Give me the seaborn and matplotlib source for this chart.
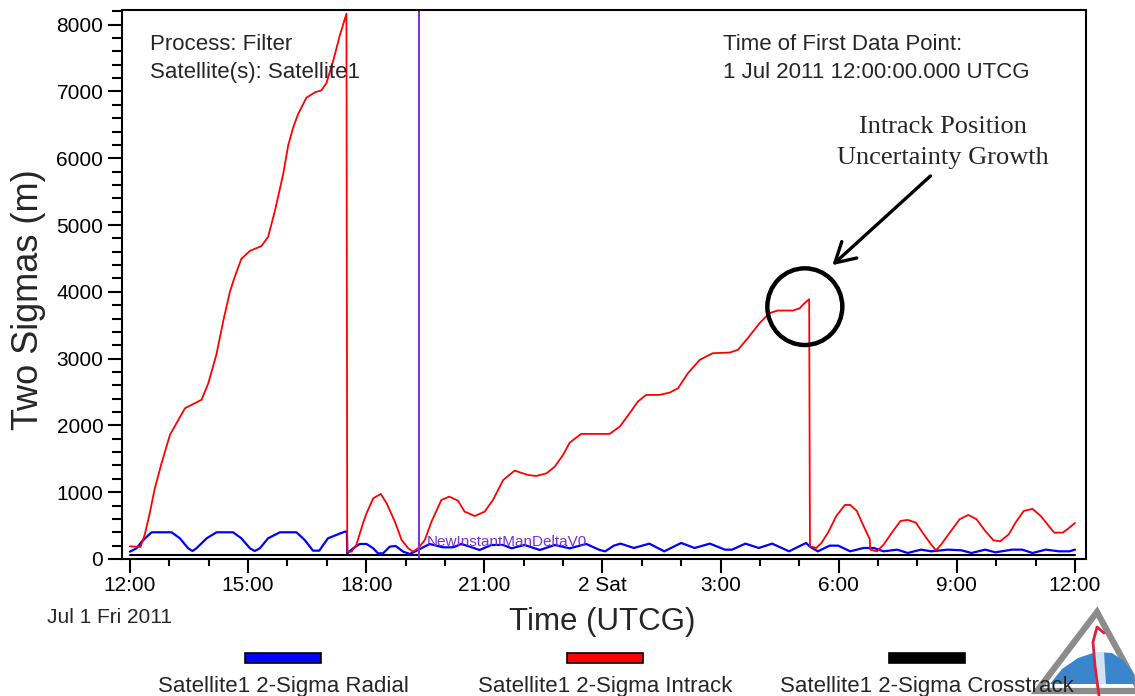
import matplotlib
matplotlib.use("Agg")
import matplotlib.pyplot as plt
import matplotlib.patches as mpatches
from matplotlib.lines import Line2D
from matplotlib.ticker import MultipleLocator
from matplotlib.transforms import Affine2D
import pandas as pd
import seaborn as sns

# hours after 1 Jul 2011 12:00:00 UTCG, two-sigma values in metres
radial_hours = [0.0, 0.17, 0.30, 0.55, 1.06, 1.27, 1.48, 1.59, 1.69, 1.95, 2.20, 2.62,
                2.83, 3.05, 3.17, 3.30, 3.51, 3.81, 4.23, 4.44, 4.65, 4.81, 5.03, 5.46,
                5.51, 5.52, 5.67, 5.84, 6.01, 6.18, 6.30, 6.43, 6.60, 6.75, 6.94, 7.11,
                7.32, 7.61, 7.95, 8.21, 8.42, 8.63, 8.88, 9.18, 9.48, 9.69, 10.02, 10.41,
                10.79, 11.17, 11.59, 11.93, 12.07, 12.29, 12.46, 12.80, 13.19, 13.57,
                14.00, 14.34, 14.73, 15.11, 15.29, 15.63, 15.97, 16.31, 16.74, 17.17,
                17.28, 17.47, 17.77, 17.99, 18.29, 18.63, 18.89, 19.14, 19.49, 19.75,
                20.09, 20.35, 20.77, 21.12, 21.37, 21.72, 21.98, 22.40, 22.66, 22.92,
                23.26, 23.60, 23.86, 24.0]
radial_sigma = [110, 160, 260, 400, 400, 310, 160, 120, 160, 310, 400, 400,
                310, 160, 120, 160, 310, 400, 400, 285, 125, 125, 310, 410,
                410, 85, 160, 225, 225, 160, 85, 85, 185, 195, 110, 75,
                135, 225, 175, 175, 225, 185, 135, 210, 210, 160, 210, 135,
                210, 160, 225, 135, 115, 200, 230, 165, 230, 115,
                240, 165, 230, 140, 140, 230, 165, 230, 115, 240,
                180, 115, 200, 200, 115, 165, 165, 115, 140, 90,
                140, 115, 140, 130, 90, 140, 100, 140, 140, 90,
                140, 115, 115, 140]

intrack_hours = [0.0, 0.27, 0.38, 0.51, 0.63, 0.80, 1.02, 1.23, 1.40, 1.82, 1.99, 2.20,
                 2.37, 2.54, 2.66, 2.83, 3.05, 3.34, 3.51, 3.68, 3.89, 4.02, 4.15, 4.27,
                 4.48, 4.70, 4.86, 4.99, 5.16, 5.33, 5.50, 5.52, 5.63, 5.75, 5.92, 6.01,
                 6.18, 6.37, 6.52, 6.73, 6.90, 7.07, 7.19, 7.32, 7.49, 7.66, 7.91, 8.11,
                 8.33, 8.50, 8.76, 9.01, 9.22, 9.48, 9.77, 10.11, 10.32, 10.58, 10.79,
                 11.00, 11.17, 11.46, 12.18, 12.44, 12.69, 12.90, 13.11, 13.45, 13.71,
                 13.92, 14.17, 14.47, 14.80, 15.23, 15.44, 15.69, 15.99, 16.24, 16.45,
                 16.84, 17.01, 17.13, 17.25, 17.27, 17.43, 17.56, 17.73, 17.94, 18.16,
                 18.29, 18.46, 18.63, 18.79, 18.80, 18.97, 19.14, 19.32, 19.57, 19.75,
                 19.96, 20.13, 20.35, 20.47, 20.60, 20.82, 21.07, 21.29, 21.50, 21.72,
                 21.93, 22.10, 22.32, 22.49, 22.70, 22.92, 23.13, 23.30, 23.47, 23.69,
                 23.86, 24.0]
intrack_sigma = [190, 180, 370, 700, 1050, 1425, 1862, 2082, 2258, 2384, 2629, 3068,
                 3561, 4000, 4219, 4493, 4614, 4685, 4822, 5206, 5754, 6192, 6466, 6658,
                 6905, 6988, 7015, 7124, 7452, 7836, 8165, 110, 110, 210, 535, 685,
                 909, 974, 834, 559, 285, 160, 110, 160, 285, 560, 884, 934,
                 874, 709, 644, 709, 884, 1183, 1323, 1258, 1243, 1283, 1383,
                 1558, 1743, 1873, 1873, 1982, 2182, 2357, 2457, 2457, 2492,
                 2557, 2782, 2981, 3081, 3091, 3131, 3306, 3531, 3681, 3720,
                 3720, 3755, 3830, 3890, 190, 165, 240, 395, 645, 810,
                 810, 720, 495, 295, 140, 115, 215, 370, 570, 585,
                 545, 395, 215, 130, 215, 395, 595, 660, 595, 420,
                 280, 265, 370, 545, 720, 750, 645, 520, 395, 395,
                 470, 540]

crosstrack_hours = [0.0, 6.0, 12.0, 18.0, 24.0]
crosstrack_sigma = [55, 55, 55, 55, 55]

maneuver_hour = 7.35
maneuver_name = "NewInstantManDeltaV0"

tick_hours = [0, 3, 6, 9, 12, 15, 18, 21, 24]
tick_labels = ["12:00", "15:00", "18:00", "21:00", "2 Sat", "3:00", "6:00", "9:00", "12:00"]

series_names = ["Satellite1 2-Sigma Radial", "Satellite1 2-Sigma Intrack",
                "Satellite1 2-Sigma Crosstrack"]
series_colors = ["#0000ff", "#ff0000", "#000000"]

W, H = 1135, 696

sns.set_theme(style="white")
plt.rcParams["font.family"] = ["Liberation Sans", "DejaVu Sans"]

fig = plt.figure(figsize=(W / 100, H / 100), dpi=100)
ax = fig.add_axes([122 / W, 1 - 559 / H, (1086 - 122) / W, (559 - 10) / H])
# pixel coords measured from the top-left corner of the figure
pix = Affine2D().scale(1 / W, -1 / H).translate(0, 1) + fig.transFigure

frames = []
for name, hrs, vals in [(series_names[0], radial_hours, radial_sigma),
                        (series_names[1], intrack_hours, intrack_sigma),
                        (series_names[2], crosstrack_hours, crosstrack_sigma)]:
    frames.append(pd.DataFrame({"hours": hrs, "sigma": vals, "series": name}))
df = pd.concat(frames, ignore_index=True)

for name, color, lw in [(series_names[2], series_colors[2], 1.5),
                        (series_names[0], series_colors[0], 1.6),
                        (series_names[1], series_colors[1], 1.3)]:
    sns.lineplot(data=df[df["series"] == name], x="hours", y="sigma", color=color,
                 lw=lw, sort=False, estimator=None, legend=False, ax=ax)

ax.axvline(maneuver_hour, color="#7b2fd6", lw=1.4)
ax.text(maneuver_hour + 0.18, 195, maneuver_name, color="#7b2fd6", fontsize=11,
        va="baseline")

ax.set_xlim(-0.2, 24.28)
ax.set_ylim(0, 8220)
ax.set_xticks(tick_hours, tick_labels)
ax.xaxis.set_minor_locator(MultipleLocator(1))
ax.yaxis.set_major_locator(MultipleLocator(1000))
ax.yaxis.set_minor_locator(MultipleLocator(200))
ax.tick_params(axis="both", which="both", direction="out", color="black",
               labelcolor="black", width=1.5, labelsize=15)
ax.tick_params(axis="x", which="major", length=10, pad=2, bottom=True)
ax.tick_params(axis="x", which="minor", length=5, bottom=True)
ax.tick_params(axis="y", which="major", length=10, pad=3.5, left=True)
ax.tick_params(axis="y", which="minor", length=7, left=True)
for sp in ax.spines.values():
    sp.set_color("black")
    sp.set_linewidth(1.5)

ax.set_xlabel("Time (UTCG)", fontsize=22.5, va="center")
ax.xaxis.set_label_coords(0.4984, -0.114)
ax.set_ylabel("Two Sigmas (m)", fontsize=26, va="center")
ax.yaxis.set_label_coords(-0.097, 0.473)

# circle and arrow on the intrack peak
ax.add_patch(mpatches.Ellipse((17.14, 3778), width=1.904, height=1148, fill=False,
                              edgecolor="black", lw=3.2, zorder=5))
ax.annotate("", xy=(17.84, 4400), xytext=(20.33, 5735),
            arrowprops=dict(arrowstyle="->,head_length=0.7,head_width=0.4", lw=2.4,
                            color="black", shrinkA=0, shrinkB=0, mutation_scale=20))

serif = ["Liberation Serif", "DejaVu Serif"]
fig.text(943, 133, "Intrack Position", transform=pix, family=serif, fontsize=19,
         ha="center", va="baseline")
fig.text(943, 164, "Uncertainty Growth", transform=pix, family=serif, fontsize=19,
         ha="center", va="baseline")

fig.text(150, 50, "Process: Filter", transform=pix, fontsize=16, va="baseline")
fig.text(150, 78, "Satellite(s): Satellite1", transform=pix, fontsize=16, va="baseline")
fig.text(723, 50, "Time of First Data Point:", transform=pix, fontsize=16, va="baseline")
fig.text(723, 78, "1 Jul 2011 12:00:00.000 UTCG", transform=pix, fontsize=16,
         va="baseline")
fig.text(172, 623, "Jul 1 Fri 2011", transform=pix, fontsize=15, ha="right",
         va="baseline")

# legend: swatch above label
for name, color, cx in zip(series_names, series_colors, [283, 605, 927]):
    fig.patches.append(mpatches.Rectangle((cx - 38, 653), 76, 9.5, transform=pix,
                                          facecolor=color, edgecolor="black", lw=1.2))
    fig.text(cx, 692, name, transform=pix, fontsize=16, ha="center", va="baseline")

# logo in the lower right corner
fig.patches.append(mpatches.Polygon([(1097, 612), (1037, 691), (1140, 691)], closed=True,
                                    transform=pix, facecolor="white",
                                    edgecolor="#8c8c8c", lw=4.5))
fig.patches.append(mpatches.Polygon([(1050, 684), (1062, 669), (1078, 658), (1096, 652),
                                     (1112, 653), (1124, 661), (1133, 673), (1135, 684)],
                                    closed=True, transform=pix, facecolor="#3a86cc",
                                    edgecolor="none"))
fig.patches.append(mpatches.Polygon([(1094, 652), (1104, 652), (1106, 684), (1096, 684)],
                                    closed=True, transform=pix, facecolor="#cfe3f3",
                                    edgecolor="none"))
fig.lines.append(Line2D([1104, 1097, 1093, 1095, 1099], [633, 627, 642, 666, 696],
                        transform=pix, color="#e0203a", lw=2.0))

fig.savefig("out.png", dpi=100)
